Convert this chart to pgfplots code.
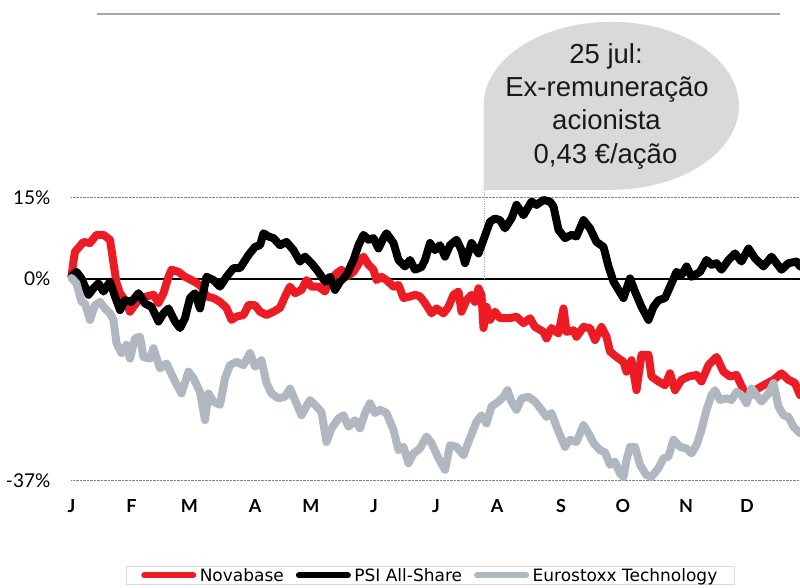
\documentclass[border=0pt]{standalone}
\usepackage{fontspec}
\usepackage{pgfplots}
\pgfplotsset{compat=1.18}
\newfontfamily\latofont{Lato}
\newfontfamily\arialfont{Liberation Sans}
\newfontfamily\dejafont{DejaVu Sans}
\definecolor{nbred}{HTML}{ED1C24}
\definecolor{esgray}{HTML}{B0B7C0}
\definecolor{calloutgray}{HTML}{D9D9D9}
\begin{document}
\begin{tikzpicture}
\useasboundingbox (-71.5pt,-106.35pt) rectangle (728.5pt,480.65pt);
\clip (-71.5pt,-106.35pt) rectangle (728.5pt,480.65pt);
% callout
\fill[calloutgray] (412pt,374.85pt) arc[start angle=180,end angle=-90,x radius=127.7pt,y radius=84pt] -- (412pt,290.65pt) -- cycle;
\begin{scope}[every node/.style={anchor=base, font=\arialfont\fontsize{27.5}{30}\selectfont, text=black!90, inner sep=0pt}]
\node at (534.5pt,417.35pt) {25 jul:};
\node at (535.5pt,383.95pt) {Ex-remuneração};
\node at (535pt,350.65pt) {acionista};
\node at (534pt,317.35pt) {0,43 €/ação};
\end{scope}
\draw[color=black!35, line width=2pt] (25.5pt,466.65pt) -- (708.5pt,466.65pt);
\begin{axis}[
  at={(0pt,0pt)}, anchor=south west, scale only axis,
  width=728.5pt, height=283.4pt,
  xmin=0, xmax=728.5, ymin=-37, ymax=15,
  clip=false,
  axis line style={draw=none},
  major tick length=0pt,
  xtick={0,60,118,183.5,239.5,302.5,364.5,425.5,489.5,551.5,614.5,675.5},
  xticklabels={J,F,M,A,M,J,J,A,S,O,N,D},
  ytick={-37,15}, yticklabels={-37\%,15\%},
  extra y ticks={0}, extra y tick labels={0\%},
  extra y tick style={grid=major, grid style={black, solid, line width=1.3pt}},
  ymajorgrids, grid style={black!50, densely dotted, line width=1pt},
  xticklabel style={font=\latofont\bfseries\fontsize{18}{20}\selectfont, anchor=base, inner sep=0pt, yshift=-32pt},
  yticklabel style={font=\latofont\fontsize{19}{21}\selectfont, anchor=east, inner sep=0pt, xshift=-21pt},
  every axis plot/.append style={line width=8pt, line join=round, line cap=round, mark=none},
  legend columns=3,
  legend style={at={(0.0745,-0.3001)}, anchor=north west, draw=black!15, line width=1pt,
    font=\dejafont\fontsize{17}{19}\selectfont, inner xsep=15pt, inner ysep=0pt,
    /tikz/every even column/.append style={column sep=10pt},
    /tikz/every odd column/.append style={column sep=1.5pt},
    cells={anchor=west}},
  legend image code/.code={\draw[#1, line width=6pt] (0pt,0pt) -- (49pt,0pt);},
]
\draw[black!30, densely dotted, line width=0.8pt] (axis cs:413,0) -- (axis cs:413,16.33);
\addplot[color=nbred] coordinates {(0,0.4)(2,3.3)(3.5,5.0)(12,6.8)(18.5,6.6)(25,8.1)(32,8.1)(38.5,7.2)(42,2.9)(45,-0.7)(48.5,-2.6)(53.5,-3.9)(58.5,-6.0)(62,-5.1)(68.5,-3.5)(75,-3.2)(82,-2.9)(87,-4.4)(92,-2.6)(97,0.4)(100,1.7)(107,1.3)(113.5,0.4)(120,-0.2)(125,-0.7)(130,-1.4)(135,-3.2)(142,-3.5)(148.5,-4.2)(155,-5.3)(160,-7.5)(165,-6.9)(172,-6.6)(177,-4.8)(183.5,-4.8)(188.5,-6.0)(195,-6.6)(202,-6.0)(208.5,-5.3)(215,-2.6)(218.5,-1.4)(223.5,-2.6)(230,-2.0)(235,-0.2)(240,-1.4)(247,-1.4)(253.5,-2.3)(258.5,-0.2)(265,1.0)(270,1.7)(275,0.4)(282,1.3)(288.5,3.2)(292,4.1)(297,2.6)(302,1.7)(305,-0.2)(310,0.4)(315,-0.2)(322,-1.4)(327,-1.1)(332,-3.5)(338.5,-3.2)(343.5,-2.9)(348.5,-3.2)(353.5,-4.4)(360,-6.3)(365,-5.4)(372,-6.3)(377,-5.1)(382,-2.9)(387,-2.3)(390,-6.0)(395,-3.9)(400,-2.9)(403.5,-4.2)(407,-1.7)(410,-2.9)(412,-9.0)(415,-5.1)(418.5,-7.5)(423.5,-6.0)(428.5,-7.2)(438.5,-7.2)(445,-6.9)(452,-8.1)(458.5,-7.2)(463.5,-8.8)(472,-9.7)(475,-10.9)(480,-9.0)(487,-10.0)(492,-5.4)(495,-9.7)(502,-9.4)(505,-10.6)(512,-8.8)(518.5,-9.0)(523.5,-11.2)(530,-8.8)(535,-10.6)(538.5,-13.3)(545,-14.3)(552,-15.2)(555,-17.0)(560,-14.9)(565,-20.4)(570,-13.9)(577,-13.9)(580,-17.9)(587,-18.8)(593.5,-19.5)(598.5,-17.3)(603.5,-20.4)(610,-18.5)(617,-17.9)(625,-17.6)(630,-18.8)(637,-15.8)(645,-14.3)(652,-17.0)(658.5,-17.9)(665,-17.6)(672,-20.4)(677,-21.6)(683.5,-20.4)(692,-19.5)(702,-18.5)(710,-17.3)(717,-18.5)(723.5,-19.1)(728.5,-21.3)};
\addplot[color=black] coordinates {(0,0.5)(5,1.3)(10,0.1)(17,-2.9)(22,-1.7)(27,-0.8)(32,-2.3)(38.5,-0.5)(43.5,-3.2)(48.5,-5.7)(53.5,-3.9)(60,-4.2)(67,-2.6)(73.5,-4.5)(80,-5.1)(87,-7.8)(92,-6.3)(97,-5.4)(103.5,-7.8)(108.5,-9.0)(113.5,-7.2)(118.5,-3.5)(123.5,-2.6)(128.5,-5.4)(135,0.4)(142,-0.2)(148.5,-1.4)(155,0.4)(162,2.0)(168.5,2.0)(177,4.4)(183.5,5.9)(188.5,6.2)(192,8.4)(197,7.8)(202,7.5)(208.5,6.2)(215,6.8)(222,5.3)(228.5,3.2)(233.5,4.1)(240,2.9)(247,1.3)(253.5,-0.5)(258.5,0.4)(263.5,-2.0)(268.5,-0.5)(275,0.7)(282,3.5)(287,6.2)(292,8.1)(297,7.2)(302,7.5)(307,5.6)(312,7.5)(315,8.4)(322,6.6)(327,3.5)(333.5,2.3)(338.5,3.5)(343.5,1.7)(350,2.2)(353.5,3.5)(358.5,6.6)(363.5,5.3)(368.5,6.2)(373.5,4.1)(378.5,6.2)(385,7.2)(390,5.3)(393.5,2.9)(400,6.6)(407,4.7)(412,7.2)(418.5,10.5)(423.5,11.1)(428.5,10.8)(433.5,9.3)(440,11.1)(445,13.6)(452,11.7)(460,14.2)(465,13.6)(472,14.5)(478.5,14.2)(482,13.3)(487,9.0)(493.5,7.5)(500,8.1)(505,7.8)(512,10.8)(518.5,9.3)(525,6.8)(532,5.9)(537,2.3)(542,-0.5)(547,-2.0)(552,-3.5)(558.5,0.1)(563.5,-2.3)(570,-5.1)(577,-7.5)(582,-5.1)(587,-3.9)(593.5,-3.5)(600,-0.8)(605,1.3)(610,0.7)(615,2.3)(620,0.4)(628.5,1.3)(635,3.5)(640,2.6)(645,2.9)(650,1.7)(657,3.5)(663.5,4.7)(670,3.2)(677,5.6)(683.5,3.8)(692,2.3)(700,4.1)(705,2.9)(710,1.7)(717,2.9)(725,3.2)(728.5,2.3)};
\addplot[color=esgray] coordinates {(0,0.2)(5,-0.8)(10,-4.2)(13.5,-4.5)(18.5,-7.5)(23.5,-4.8)(28.5,-4.2)(33.5,-5.4)(38.5,-6.3)(42,-7.5)(45,-11.8)(50,-13.6)(55,-12.1)(58.5,-14.6)(63.5,-10.9)(68.5,-10.6)(72,-14.3)(78.5,-14.6)(82,-12.7)(88.5,-16.4)(95,-15.5)(103.5,-18.8)(110,-21.0)(117,-17.0)(122,-18.2)(128.5,-20.7)(133.5,-25.9)(137,-21.0)(142,-22.5)(148.5,-23.1)(153.5,-18.2)(158.5,-15.8)(165,-15.2)(172,-15.8)(178.5,-13.6)(183.5,-16.1)(190,-14.9)(195,-19.1)(200,-21.0)(207,-21.9)(213.5,-21.6)(218.5,-20.1)(223.5,-22.2)(230,-25.0)(238.5,-22.2)(245,-23.4)(250,-24.4)(255,-29.9)(260,-27.4)(267,-25.6)(272,-25.0)(277,-27.1)(283.5,-25.9)(288.5,-27.4)(293.5,-24.6)(298.5,-22.8)(303.5,-24.6)(308.5,-24.0)(315,-24.6)(322,-27.7)(327,-31.4)(332,-30.8)(337,-33.8)(342,-32.0)(348.5,-31.1)(355,-28.9)(360,-30.1)(367,-32.9)(373.5,-35.0)(378.5,-30.5)(385,-30.8)(392,-32.3)(398.5,-29.2)(405,-26.2)(410,-25.0)(415,-26.5)(420,-23.4)(427,-22.5)(432,-21.6)(436,-20.4)(440,-22.5)(445,-24.0)(450,-21.9)(457,-21.6)(463.5,-22.5)(470,-24.0)(475,-25.3)(480,-24.6)(487,-28.0)(493.5,-30.8)(498.5,-29.5)(505,-29.9)(512,-26.8)(517,-28.3)(522,-30.1)(528.5,-31.4)(533.5,-31.8)(538.5,-34.1)(543.5,-33.5)(548.5,-35.7)(552,-36.3)(555,-33.2)(558.5,-30.8)(563.5,-30.8)(568.5,-34.1)(575,-36.0)(580,-36.3)(587,-34.7)(592,-32.9)(597,-32.6)(602,-29.5)(608.5,-30.8)(615,-31.1)(620,-32.0)(625,-30.5)(630,-27.7)(635,-24.0)(640,-21.3)(643.5,-20.4)(648.5,-22.2)(655,-21.9)(660,-22.2)(665,-20.7)(670,-21.3)(675,-22.8)(680,-20.1)(685,-21.3)(690,-22.5)(697,-21.0)(702,-19.1)(707,-23.4)(712,-25.0)(717,-25.3)(722,-27.1)(728.5,-28.3)};
\legend{Novabase, PSI All-Share, Eurostoxx Technology}
\end{axis}
\end{tikzpicture}
\end{document}
